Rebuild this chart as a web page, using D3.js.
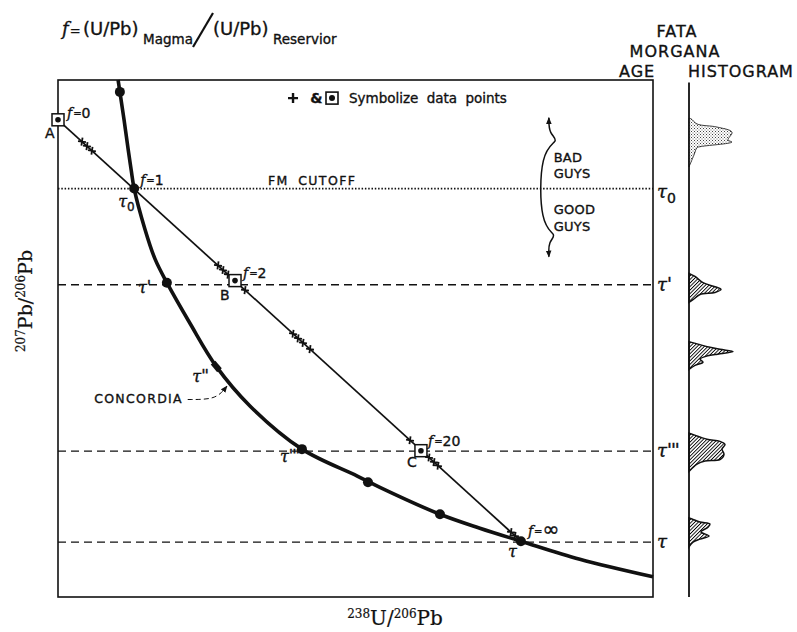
<!DOCTYPE html>
<html>
<head>
<meta charset="utf-8">
<script src="https://cdn.jsdelivr.net/npm/d3@7"></script>
<style>
body { margin: 0; background: #fff; }
text { font-family: "DejaVu Sans", "Liberation Sans", sans-serif; fill: #111; stroke: #111; stroke-width: 0.35; }
.serif { font-family: "DejaVu Serif", "Liberation Serif", serif; stroke-width: 0.2; }
.tau { font-family: "DejaVu Serif", serif; font-style: italic; }
</style>
</head>
<body>
<svg></svg>
<script>
// plot units: x = 238U/206Pb, y = 207Pb/206Pb (no ticks on the original, 0-100 both ways)
var concordiaX = [10.1, 10.4, 11.1, 11.8, 12.3, 12.8, 14.6, 16.3, 18.3, 22.2, 26.6, 32.3, 41.0, 50.3, 54.1, 64.2, 70.9, 77.8, 87.7, 100]
var concordiaY = [100, 97.7, 92.3, 86.5, 82.6, 79.0, 71.2, 65.4, 60.8, 52.9, 44.6, 36.9, 28.6, 23.4, 21.2, 16.0, 13.3, 10.8, 7.3, 3.9]

// dated points on concordia
var ageNames = ["", "τ0", "τ'", "τ''", "τ'''", "", "", "τ"]
var ageX = [10.4, 12.8, 18.3, 26.6, 41.0, 52.1, 64.2, 77.8]
var ageY = [97.7, 79.0, 60.8, 44.6, 28.6, 22.2, 16.0, 10.8]

// mixing line A -> tau, f = (U/Pb)magma / (U/Pb)reservoir
var fValues = ["0", "1", "2", "20", "∞"]
var fX = [0, 12.8, 29.75, 61.0, 77.8]
var fY = [92.3, 79.0, 61.2, 28.3, 10.8]

var boxNames = ["A", "B", "C"]
var boxX = [0, 29.75, 61.0]
var boxY = [92.3, 61.2, 28.3]

var crossX = [4.03, 4.87, 5.71, 26.89, 27.73, 28.57, 31.43, 39.50, 40.34, 41.18, 42.35, 59.16, 62.35, 63.19, 63.87, 76.13, 76.81]
var crossY = [88.08, 87.2, 86.32, 64.13, 63.25, 62.37, 59.37, 50.92, 50.04, 49.16, 47.93, 30.32, 26.98, 26.1, 25.39, 12.55, 11.83]

// horizontal age lines
var lineNames = ["τ0", "τ'", "τ'''", "τ"]
var lineY = [79.0, 60.4, 28.2, 10.6]

// fata morgana age histogram (age in plot y units, count)
var peakFMAge = [92.6, 92.5, 91.5, 90.9, 89.9, 88.4, 88.0, 87.1, 86.9, 85.5, 83.2]
var peakFMCount = [0, 0.4, 1.6, 5.6, 8.6, 7.8, 8.6, 2.2, 1.6, 1.0, 0]
var peak1Age = [62.6, 62.0, 60.8, 60.0, 59.5, 58.9, 58.5, 57.5, 57.0]
var peak1Count = [0, 1.2, 2.8, 5.2, 6.4, 5.2, 2.2, 0.8, 0]
var peak2Age = [49.4, 48.8, 48.3, 47.9, 47.5, 46.9, 46.5, 46.0, 45.4, 44.8, 44.0]
var peak2Count = [0, 2.2, 4.2, 6.2, 8.8, 5.2, 3.2, 2.2, 2.8, 1.2, 0]
var peak3Age = [31.7, 31.5, 30.5, 30.1, 29.5, 28.6, 27.6, 26.6, 26.3, 25.7, 24.3]
var peak3Count = [0, 0.6, 3.6, 6.2, 7.2, 6.6, 7.0, 6.2, 3.2, 1.6, 0]
var peak4Age = [15.3, 15.1, 14.5, 14.1, 13.5, 12.6, 11.8, 11.2, 10.6, 9.7]
var peak4Count = [0, 0.6, 2.2, 4.2, 3.8, 2.4, 4.0, 2.2, 0.8, 0]

var margin = { top: 80, right: 144, bottom: 35, left: 58 },
    width = 595,
    height = 517

var svg = d3.select("svg")
    .attr("width", 797)
    .attr("height", 632)

var defs = svg.append("defs")
defs.append("pattern")
    .attr("id", "hatch")
    .attr("patternUnits", "userSpaceOnUse")
    .attr("width", 2.5).attr("height", 2.5)
    .attr("patternTransform", "rotate(45)")
    .append("line")
    .attr("x1", 0).attr("y1", 0).attr("x2", 0).attr("y2", 2.5)
    .attr("stroke", "#000").attr("stroke-width", 1.8)
var stip = defs.append("pattern")
    .attr("id", "stipple")
    .attr("patternUnits", "userSpaceOnUse")
    .attr("width", 3).attr("height", 3)
stip.append("rect").attr("x", 0).attr("y", 0).attr("width", 1).attr("height", 1).attr("fill", "#444")
stip.append("rect").attr("x", 1.5).attr("y", 1.5).attr("width", 1).attr("height", 1).attr("fill", "#666")
defs.append("marker")
    .attr("id", "arrow")
    .attr("viewBox", "0 0 10 10")
    .attr("refX", 9).attr("refY", 5)
    .attr("markerWidth", 7).attr("markerHeight", 7)
    .attr("markerUnits", "userSpaceOnUse")
    .attr("orient", "auto-start-reverse")
    .append("path")
    .attr("d", "M0,1L10,5L0,9z")
    .attr("fill", "#111")

var g = svg.append("g")
    .attr("transform", "translate(" + margin.left + "," + margin.top + ")")

var x = d3.scaleLinear().domain([0, 100]).range([0, width])
var y = d3.scaleLinear().domain([0, 100]).range([height, 0])
var hx = d3.scaleLinear().domain([0, 10]).range([631, 681])

// frame
g.append("rect")
    .attr("x", x(0)).attr("y", y(100))
    .attr("width", x(100) - x(0)).attr("height", y(0) - y(100))
    .attr("fill", "none").attr("stroke", "#111").attr("stroke-width", 1.6)

// age lines
g.selectAll(".ageline")
    .data(lineY)
    .enter().append("line")
    .attr("class", "ageline")
    .attr("x1", x(0)).attr("x2", x(100))
    .attr("y1", d => y(d)).attr("y2", d => y(d))
    .attr("stroke", "#111")
    .attr("stroke-width", (d, i) => i == 0 ? 1.8 : 1.3)
    .attr("stroke-dasharray", (d, i) => i == 0 ? "1.5,1.8" : "8,5")

function tauText(sel, name, size, subSize, subDy) {
    var t = sel.append("text")
        .attr("class", "tau")
        .attr("font-size", size)
        .text("τ")
    if (name.charAt(1) == "0") {
        t.append("tspan").attr("dy", subDy).attr("font-size", subSize).attr("font-style", "normal")
            .attr("font-family", "DejaVu Sans").text("0")
    } else if (name.length > 1) {
        t.append("tspan").attr("dy", -1).attr("font-family", "DejaVu Sans").attr("font-style", "italic")
            .attr("letter-spacing", -1).text(name.slice(1))
    }
    return t
}

lineNames.forEach(function(name, i) {
    tauText(g, name, 18, 14, 5)
        .attr("x", x(100) + 4)
        .attr("y", y(lineY[i]) + (i == 0 ? 9 : 6))
})

// mixing line
g.append("line")
    .attr("x1", x(fX[0])).attr("y1", y(fY[0]))
    .attr("x2", x(fX[4])).attr("y2", y(fY[4]))
    .attr("stroke", "#111").attr("stroke-width", 1.7)

// concordia
var concordia = concordiaX.map((d, i) => [d, concordiaY[i]])
g.append("path")
    .datum(concordia)
    .attr("d", d3.line().x(d => x(d[0])).y(d => y(d[1])).curve(d3.curveCatmullRom))
    .attr("fill", "none").attr("stroke", "#111").attr("stroke-width", 3.6)

g.selectAll(".agedot")
    .data(ageX.filter((d, i) => i != 3))
    .enter().append("circle")
    .attr("class", "agedot")
    .attr("cx", d => x(d))
    .attr("cy", (d, i) => y(ageY.filter((v, j) => j != 3)[i]))
    .attr("r", 5)
    .attr("fill", "#111")
// tau'' is drawn as a short bar on the curve
g.append("rect")
    .attr("x", -3).attr("y", -5).attr("width", 6).attr("height", 10)
    .attr("fill", "#111")
    .attr("transform", "translate(" + x(ageX[3]) + "," + y(ageY[3]) + ")rotate(-40)")

var ageLabelOffsets = [null, [-16, 18], [-29, 10], [-24, 16], [-22, 13], null, null, [-13, 16]]
ageNames.forEach(function(name, i) {
    if (!name) return
    tauText(g, name, 16, 12, 4)
        .attr("x", x(ageX[i]) + ageLabelOffsets[i][0])
        .attr("y", y(ageY[i]) + ageLabelOffsets[i][1])
})

// data point crosses
g.selectAll(".cross")
    .data(crossX)
    .enter().append("path")
    .attr("class", "cross")
    .attr("d", "M-4,0L4,0M0,-4L0,4")
    .attr("transform", (d, i) => "translate(" + x(d) + "," + y(crossY[i]) + ")rotate(8)")
    .attr("stroke", "#111").attr("stroke-width", 1.8)

// boxed points
boxNames.forEach(function(name, i) {
    g.append("rect")
        .attr("x", x(boxX[i]) - 6).attr("y", y(boxY[i]) - 6)
        .attr("width", 12).attr("height", 12)
        .attr("fill", "#fff").attr("stroke", "#111").attr("stroke-width", 1.5)
    g.append("circle")
        .attr("cx", x(boxX[i])).attr("cy", y(boxY[i])).attr("r", 2.8).attr("fill", "#111")
})
var boxLabelOffsets = [[-13, 18], [-15, 19], [-14, 16]]
boxNames.forEach(function(name, i) {
    g.append("text")
        .attr("x", x(boxX[i]) + boxLabelOffsets[i][0])
        .attr("y", y(boxY[i]) + boxLabelOffsets[i][1])
        .attr("font-size", 14)
        .text(name)
})

var fLabelOffsets = [[9, -2], [6, -4], [8, -3], [7, -5], [7, -5]]
fValues.forEach(function(v, i) {
    var t = g.append("text")
        .attr("x", x(fX[i]) + fLabelOffsets[i][0])
        .attr("y", y(fY[i]) + fLabelOffsets[i][1])
        .attr("font-size", 14)
    t.append("tspan").attr("font-family", "DejaVu Serif").attr("font-style", "italic").text("f")
    t.append("tspan").attr("font-size", 10).attr("dx", 1).attr("dy", -1).text("=")
    t.append("tspan").attr("dy", 1).attr("font-size", v == "∞" ? 20 : 14).text(v)
})

// concordia label with leader
g.append("text")
    .attr("x", x(21.0)).attr("y", y(37.6))
    .attr("text-anchor", "end")
    .attr("font-size", 12.5)
    .attr("letter-spacing", 1.3)
    .text("CONCORDIA")
g.append("path")
    .datum([[21.8, 38.2], [26.0, 38.2], [27.6, 39.6], [28.4, 40.8]])
    .attr("d", d3.line().x(d => x(d[0])).y(d => y(d[1])).curve(d3.curveBasis))
    .attr("fill", "none").attr("stroke", "#111").attr("stroke-width", 1)
    .attr("stroke-dasharray", "5,3")
    .attr("marker-end", "url(#arrow)")

// legend
g.append("path")
    .attr("d", "M-5,0L5,0M0,-5L0,5")
    .attr("transform", "translate(" + x(39.5) + "," + y(96.5) + ")")
    .attr("stroke", "#111").attr("stroke-width", 2.4)
g.append("text").attr("x", x(42.4)).attr("y", y(95.6)).attr("font-size", 14).attr("font-weight", "bold").text("&")
g.append("rect")
    .attr("x", x(46.05) - 6).attr("y", y(96.5) - 6).attr("width", 12).attr("height", 12)
    .attr("fill", "#fff").attr("stroke", "#111").attr("stroke-width", 1.6)
g.append("circle").attr("cx", x(46.05)).attr("cy", y(96.5)).attr("r", 3).attr("fill", "#111")
g.append("text")
    .attr("x", x(48.9)).attr("y", y(95.6))
    .attr("font-size", 13.5)
    .attr("word-spacing", 4)
    .text("Symbolize data points")

g.append("text")
    .attr("x", x(35.3)).attr("y", y(79.6))
    .attr("font-size", 12.5)
    .attr("letter-spacing", 1.4)
    .attr("word-spacing", 4)
    .text("FM CUTOFF")

// bad guys / good guys
g.append("path")
    .datum([[82.5, 92.7], [82.5, 89.6], [84.4, 88.2], [81.0, 86.6], [81.0, 71.6], [84.0, 70.1], [82.4, 68.8], [82.5, 65.8]])
    .attr("d", d3.line().x(d => x(d[0])).y(d => y(d[1])).curve(d3.curveBasis))
    .attr("fill", "none").attr("stroke", "#111").attr("stroke-width", 1.5)
    .attr("marker-start", "url(#arrow)")
    .attr("marker-end", "url(#arrow)")
var guysText = ["BAD", "GUYS", "GOOD", "GUYS"]
var guysY = [84.1, 81.1, 74.0, 70.7]
guysText.forEach(function(t, i) {
    g.append("text")
        .attr("x", x(83.3)).attr("y", y(guysY[i]))
        .attr("font-size", 13)
        .attr("letter-spacing", 0.3)
        .text(t)
})

// histogram
g.append("line")
    .attr("x1", hx(0)).attr("x2", hx(0))
    .attr("y1", y(99.5)).attr("y2", y(0))
    .attr("stroke", "#111").attr("stroke-width", 1.8)

var peaks = [
    [peakFMAge, peakFMCount, "url(#stipple)", 0.8],
    [peak1Age, peak1Count, "url(#hatch)", 1.5],
    [peak2Age, peak2Count, "url(#hatch)", 1.5],
    [peak3Age, peak3Count, "url(#hatch)", 1.5],
    [peak4Age, peak4Count, "url(#hatch)", 1.5]
]
var histArea = d3.area()
    .y(d => y(d[0]))
    .x0(hx(0))
    .x1(d => hx(d[1]))
    .curve(d3.curveCatmullRom)
peaks.forEach(function(p) {
    g.append("path")
        .datum(p[0].map((a, i) => [a, p[1][i]]))
        .attr("d", histArea)
        .attr("fill", p[2])
        .attr("stroke", "#111")
        .attr("stroke-width", p[3])
})

// titles
var formula = svg.append("text").attr("x", 62).attr("y", 35).attr("font-size", 18)
formula.append("tspan").attr("font-family", "DejaVu Serif").attr("font-style", "italic").text("f")
formula.append("tspan").attr("font-size", 13).attr("dx", 1).text("=")
formula.append("tspan").attr("x", 83).text("(U/Pb)")
formula.append("tspan").attr("x", 143).attr("y", 44).attr("font-size", 13.5).text("Magma")
formula.append("tspan").attr("x", 213).attr("y", 35).text("(U/Pb)")
formula.append("tspan").attr("x", 273).attr("y", 44).attr("font-size", 13.5).text("Reservior")
svg.append("line")
    .attr("x1", 193).attr("y1", 47).attr("x2", 213).attr("y2", 13)
    .attr("stroke", "#111").attr("stroke-width", 2.2)

var header = [["FATA", 677, 37, "middle"], ["MORGANA", 675, 57, "middle"], ["AGE", 619, 77, "start"], ["HISTOGRAM", 688, 77, "start"]]
header.forEach(function(h) {
    svg.append("text")
        .attr("x", h[1]).attr("y", h[2])
        .attr("text-anchor", h[3])
        .attr("font-size", 16)
        .attr("letter-spacing", 1)
        .text(h[0])
})

var xTitle = svg.append("text")
    .attr("class", "serif")
    .attr("x", 395).attr("y", 625)
    .attr("text-anchor", "middle")
    .attr("font-size", 20)
xTitle.append("tspan").attr("font-size", 12).attr("dy", -7).text("238")
xTitle.append("tspan").attr("dy", 7).text("U/")
xTitle.append("tspan").attr("font-size", 12).attr("dy", -7).text("206")
xTitle.append("tspan").attr("dy", 7).text("Pb")

var yTitle = svg.append("text")
    .attr("class", "serif")
    .attr("transform", "translate(32,301)rotate(-90)")
    .attr("text-anchor", "middle")
    .attr("font-size", 19)
yTitle.append("tspan").attr("font-size", 12).attr("dy", -7).text("207")
yTitle.append("tspan").attr("dy", 7).text("Pb/")
yTitle.append("tspan").attr("font-size", 12).attr("dy", -7).text("206")
yTitle.append("tspan").attr("dy", 7).text("Pb")
</script>
</body>
</html>
